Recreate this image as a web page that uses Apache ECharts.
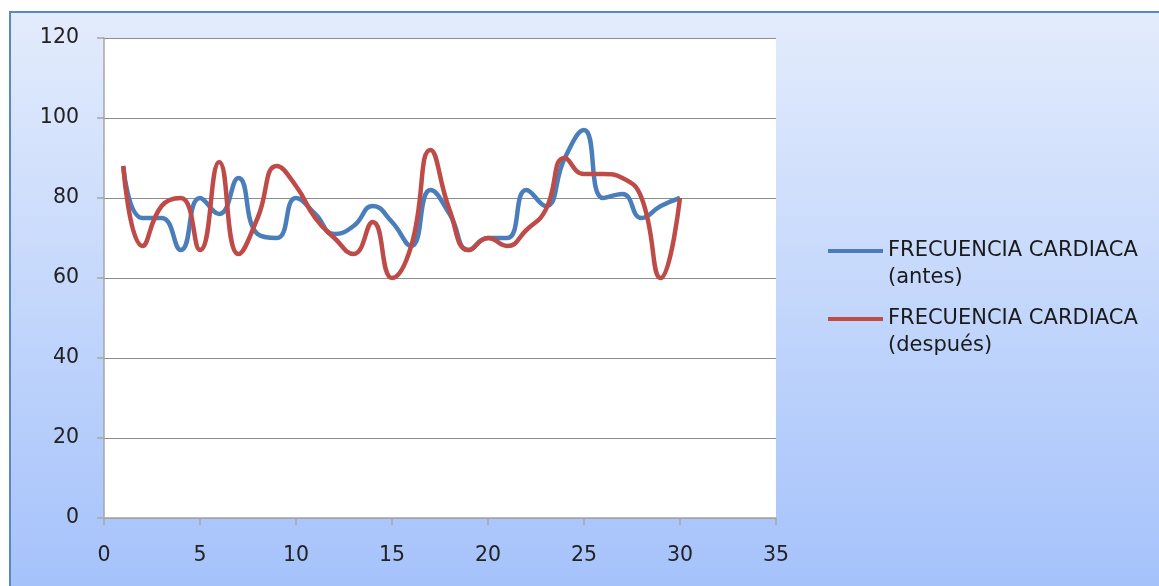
<!DOCTYPE html>
<html>
<head>
<meta charset="utf-8">
<script src="https://cdn.jsdelivr.net/npm/echarts@6/dist/echarts.min.js"></script>
<style>
  html, body { margin: 0; padding: 0; background: #ffffff; }
  #chart { width: 1159px; height: 586px; }
</style>
</head>
<body>
<div id="chart"></div>
<script>
// Sesiones 1..30
const sesiones = [1,2,3,4,5,6,7,8,9,10,11,12,13,14,15,16,17,18,19,20,21,22,23,24,25,26,27,28,29,30];
// Frecuencia cardiaca antes del ejercicio
const antes   = [88,75,75,67,80,76,85,71,70,80,76,71,73,78,74,68,82,76,67,70,70,82,78,90,97,80,81,75,78,80];
// Frecuencia cardiaca después del ejercicio
const despues = [88,68,78,80,67,89,66,75,88,83,75,70,66,74,60,68,92,77,67,70,68,72,77,90,86,86,85,80,60,80];
const nombreAntes = 'FRECUENCIA CARDIACA\n(antes)';
const nombreDespues = 'FRECUENCIA CARDIACA\n(después)';

const fontFam = '"DejaVu Sans", sans-serif';
const chart = echarts.init(document.getElementById('chart'), null, { renderer: 'canvas' });

// Legend labels: a blank first row keeps the marker beside the first text row
const legendFormatter = name => ['{t| }'].concat(name.split('\n').map(s => '{t|' + s + '}')).join('\n');
const legendText = {
  rich: { t: { fontFamily: fontFam, fontSize: 21, color: '#1a1a1a', lineHeight: 27 } }
};

chart.setOption({
  animation: false,
  graphic: [{
    type: 'rect', z: -10, silent: true,
    shape: { x: 10, y: 12, width: 1160, height: 590 },
    style: {
      fill: new echarts.graphic.LinearGradient(0, 0, 0, 1, [
        { offset: 0, color: '#e3ecfc' },
        { offset: 1, color: '#a3c1fb' }
      ]),
      stroke: '#5a88c6', lineWidth: 2
    }
  }],
  grid: {
    left: 104, top: 38, right: 383, bottom: 68,
    show: true, backgroundColor: '#ffffff', borderWidth: 0
  },
  legend: [{
    data: [nombreAntes],
    orient: 'vertical', left: 823, top: 208.5,
    itemWidth: 55, itemHeight: 4, icon: 'rect',
    formatter: legendFormatter, textStyle: legendText
  }, {
    data: [nombreDespues],
    orient: 'vertical', left: 823, top: 276.5,
    itemWidth: 55, itemHeight: 4, icon: 'rect',
    formatter: legendFormatter, textStyle: legendText
  }],
  xAxis: {
    type: 'value', min: 0, max: 35, interval: 5,
    axisLine: { show: true, onZero: false, lineStyle: { color: '#a6a6a6', width: 1.5 } },
    axisTick: { show: true, length: 7, lineStyle: { color: '#a6a6a6', width: 1.5 } },
    axisLabel: { margin: 27, fontFamily: fontFam, fontSize: 20.5, color: '#222222' },
    splitLine: { show: false }
  },
  yAxis: {
    type: 'value', min: 0, max: 120, interval: 20,
    axisLine: { show: true, lineStyle: { color: '#a6a6a6', width: 1.5 } },
    axisTick: { show: true, length: 7, lineStyle: { color: '#a6a6a6', width: 1.5 } },
    axisLabel: { margin: 25, padding: [4, 0, 0, 0], fontFamily: fontFam, fontSize: 20.5, color: '#222222' },
    splitLine: { show: true, lineStyle: { color: '#8c8c8c', width: 1.2 } }
  },
  series: [{
    name: nombreAntes, type: 'line', smooth: 0.5, showSymbol: false, symbol: 'none',
    data: sesiones.map((s, i) => [s, antes[i]]),
    lineStyle: { color: '#4a7ebb', width: 4.5 },
    itemStyle: { color: '#4a7ebb' }
  }, {
    name: nombreDespues, type: 'line', smooth: 0.5, showSymbol: false, symbol: 'none',
    data: sesiones.map((s, i) => [s, despues[i]]),
    lineStyle: { color: '#be4b48', width: 4.5 },
    itemStyle: { color: '#be4b48' }
  }]
});
</script>
</body>
</html>
